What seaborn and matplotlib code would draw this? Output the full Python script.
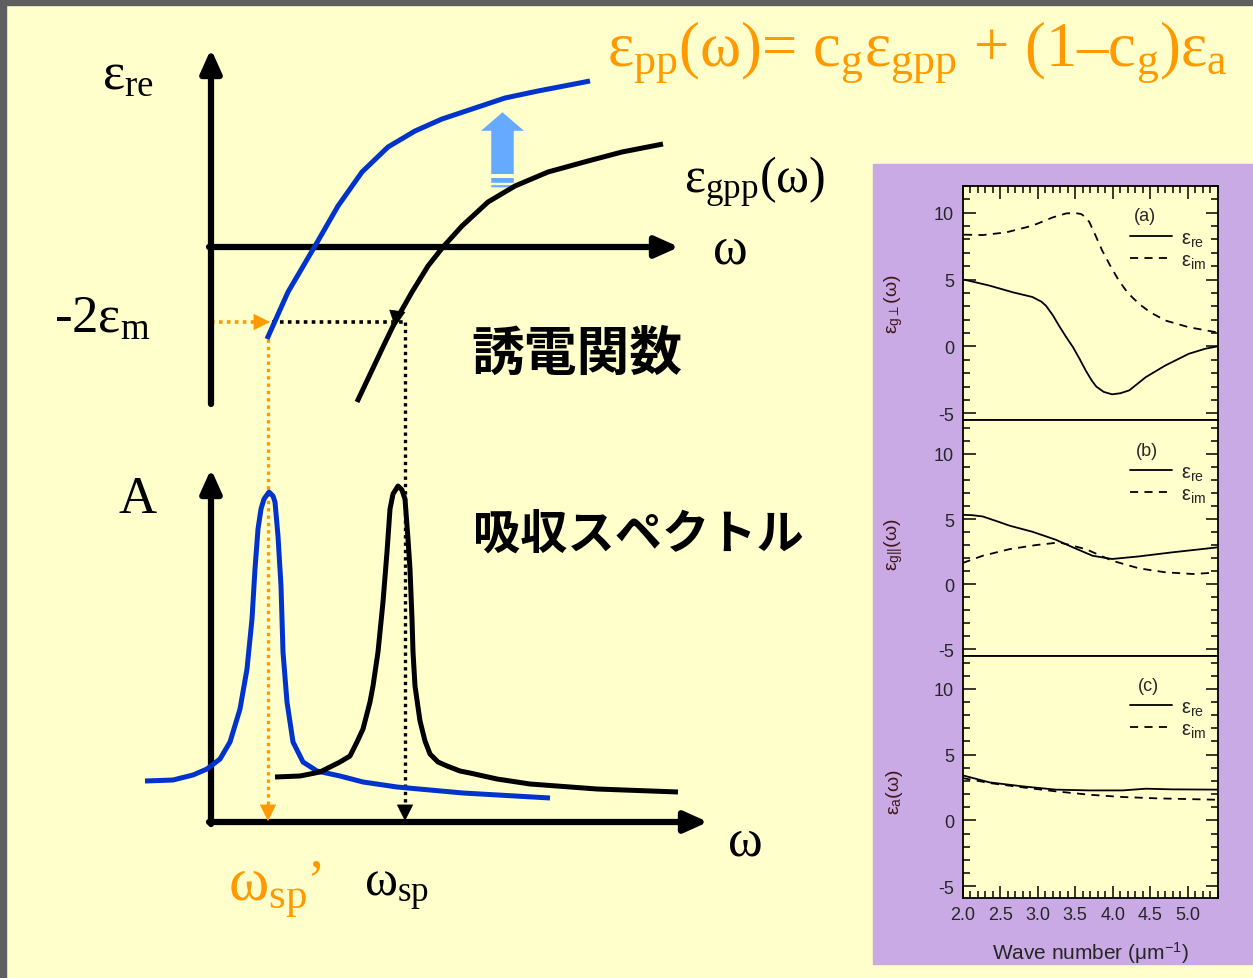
import numpy as np
import pandas as pd
import matplotlib
matplotlib.use("Agg")
import matplotlib.pyplot as plt
import seaborn as sns
from matplotlib.patches import Rectangle, FancyArrow
from matplotlib.ticker import MultipleLocator

sns.set_theme(style="ticks")
plt.rcParams["font.family"] = ["Liberation Serif", "DejaVu Sans"]
plt.rcParams["mathtext.fontset"] = "custom"
plt.rcParams["mathtext.rm"] = "Liberation Serif"
plt.rcParams["mathtext.it"] = "Liberation Serif"
plt.rcParams["mathtext.sf"] = "Liberation Sans"
plt.rcParams["mathtext.default"] = "rm"
plt.rcParams["axes.unicode_minus"] = False

BG = "#FFFFCC"
BLUE = "#0033CC"
ORANGE = "#FF9900"
PURPLE = "#C9AAE5"

# ---------------- schematic data (pixel frame) ----------------
eps_pp_w = [267, 288, 315, 338, 362, 388, 415, 442, 472, 505, 538, 590]
eps_pp_v = [340, 293, 247, 207, 173, 148, 132, 120, 110, 99, 92, 82]

eps_gpp_w = [357, 382, 395, 412, 428, 443, 462, 488, 515, 548, 588, 622, 663]
eps_gpp_v = [403, 350, 323, 293, 267, 248, 227, 203, 187, 173, 162, 153, 145]

abs_pp_w = [145, 173, 193, 207, 220, 230, 240, 247, 252, 255, 258, 261, 264, 269,
            273, 275, 278, 281, 283, 287, 293, 303, 317, 340, 363, 397, 463, 550]
abs_pp_v = [782, 781, 776, 770, 760, 743, 710, 670, 620, 570, 530, 510, 500, 493,
            497, 503, 537, 587, 653, 703, 743, 763, 772, 777, 783, 788, 794, 799]

abs_g_w = [275, 300, 320, 340, 350, 357, 363, 370, 373, 378, 383, 387, 390, 393,
           398, 402, 405, 408, 410, 412, 413, 415, 420, 425, 430, 438, 447, 460,
           470, 497, 530, 597, 678]
abs_g_v = [778, 777, 773, 763, 757, 743, 730, 703, 687, 653, 603, 553, 510, 495,
           487, 491, 500, 540, 570, 620, 653, 687, 722, 742, 755, 763, 767, 772,
           774, 780, 785, 790, 793]

# ---------------- right panel data ----------------
a_re_x = [2.02, 2.36, 2.67, 2.93, 3.05, 3.11, 3.20, 3.29, 3.38, 3.47, 3.56, 3.64, 3.72,
          3.78, 3.88, 3.99, 4.10, 4.22, 4.44, 4.70, 5.01, 5.23, 5.39]
a_re_y = [5.00, 4.55, 4.05, 3.70, 3.35, 3.05, 2.35, 1.50, 0.70, -0.05, -0.95, -1.80,
          -2.55, -3.00, -3.40, -3.58, -3.50, -3.28, -2.29, -1.42, -0.55, -0.17, 0.00]
a_im_x = [2.02, 2.27, 2.58, 2.93, 3.20, 3.38, 3.50, 3.58, 3.64, 3.69, 3.77, 3.86, 3.97,
          4.08, 4.20, 4.35, 4.50, 4.70, 5.01, 5.37]
a_im_y = [8.36, 8.33, 8.53, 9.03, 9.65, 9.95, 9.98, 9.90, 9.65, 9.28, 8.30, 7.16, 6.00,
          4.93, 4.00, 3.18, 2.55, 1.94, 1.44, 1.07]

b_re_x = [2.00, 2.13, 2.27, 2.45, 2.63, 2.93, 3.24, 3.47, 3.73, 3.99, 4.35, 4.79, 5.39]
b_re_y = [5.33, 5.30, 5.20, 4.85, 4.49, 4.03, 3.42, 2.83, 2.19, 1.94, 2.14, 2.45, 2.83]
b_im_x = [2.00, 2.27, 2.63, 2.98, 3.29, 3.64, 3.99, 4.35, 4.70, 5.06, 5.30]
b_im_y = [1.63, 2.19, 2.70, 3.01, 3.21, 2.70, 1.81, 1.22, 0.92, 0.79, 0.87]

c_re_x = [2.00, 2.36, 2.80, 3.24, 3.69, 4.13, 4.44, 4.79, 5.39]
c_re_y = [3.43, 2.89, 2.59, 2.34, 2.28, 2.28, 2.41, 2.36, 2.34]
c_im_x = [2.00, 2.36, 2.80, 3.24, 3.69, 4.13, 4.57, 5.01, 5.39]
c_im_y = [3.22, 2.84, 2.51, 2.21, 1.95, 1.78, 1.68, 1.62, 1.57]

panel_tags = ["(a)", "(b)", "(c)"]
panel_ylabels = [r"$\mathsf{ε}_{\mathsf{g}\perp}\mathsf{(ω)}$",
                 r"$\mathsf{ε}_{\mathsf{g||}}\mathsf{(ω)}$",
                 r"$\mathsf{ε}_{\mathsf{a}}\mathsf{(ω)}$"]
y_ticks = [-5, 0, 5, 10]
x_ticks = [2.0, 2.5, 3.0, 3.5, 4.0, 4.5, 5.0]

# ---------------- figure ----------------
fig = plt.figure(figsize=(12.53, 9.79), dpi=100, facecolor=BG)
ax = fig.add_axes([0, 0, 1, 1])
ax.set_facecolor(BG)

# borders and purple box
ax.add_patch(Rectangle((0, 0), 1253, 6, color="#5f5f5f", zorder=1))
ax.add_patch(Rectangle((0, 0), 6, 979, color="#5f5f5f", zorder=1))
ax.add_patch(Rectangle((873, 165), 380, 800, color=PURPLE, zorder=1))

def axis_arrow(x0, y0, x1, y1):
    ax.annotate("", xy=(x1, y1), xytext=(x0, y0),
                arrowprops=dict(arrowstyle="-|>,head_length=1.0,head_width=0.45",
                                lw=4.5, color="black", mutation_scale=14,
                                shrinkA=0, shrinkB=0), zorder=3)

def small_head(x0, y0, x1, y1, color):
    ax.annotate("", xy=(x1, y1), xytext=(x0, y0),
                arrowprops=dict(arrowstyle="-|>,head_length=1.0,head_width=0.5",
                                lw=0.5, color=color, mutation_scale=11,
                                shrinkA=0, shrinkB=0), zorder=4)

axis_arrow(211, 405, 211, 50)
axis_arrow(209, 248, 679, 248)
axis_arrow(211, 825, 211, 470)
axis_arrow(209, 823, 708, 823)

# dotted guide lines
dot = (0, (1, 1.2))
ax.plot([211, 258], [323, 323], ls=dot, lw=2.6, color=ORANGE, zorder=2)
small_head(254, 323, 270, 323, ORANGE)
ax.plot([272, 405], [323, 323], ls=dot, lw=2.6, color="black", zorder=2)
small_head(397, 314, 395, 328, "black")
ax.plot([268, 268], [340, 808], ls=dot, lw=2.4, color=ORANGE, zorder=2)
small_head(268, 806, 268, 822, ORANGE)
ax.plot([405, 405], [323, 808], ls=dot, lw=2.4, color="black", zorder=2)
small_head(405, 806, 405, 822, "black")

# curves
curve_kw = dict(ax=ax, sort=False, estimator=None, lw=3.6, solid_capstyle="butt",
                solid_joinstyle="round", zorder=5)
sns.lineplot(x=eps_pp_w, y=eps_pp_v, color=BLUE, **curve_kw)
sns.lineplot(x=eps_gpp_w, y=eps_gpp_v, color="black", **curve_kw)
sns.lineplot(x=abs_pp_w, y=abs_pp_v, color=BLUE, **curve_kw)
sns.lineplot(x=abs_g_w, y=abs_g_v, color="black", **curve_kw)
ax.set_xlim(0, 1253)
ax.set_ylim(979, 0)
ax.axis("off")

# light blue shift arrow
ax.add_patch(FancyArrow(502.5, 188.3, 0, -56.5, width=22.5, head_width=43, head_length=18.5,
                        length_includes_head=False, color="#66AAFF", lw=0, zorder=4))
ax.plot([489, 516], [177.0, 177.0], color=BG, lw=2.9, zorder=4.5, solid_capstyle="butt")
ax.plot([489, 516], [184.5, 184.5], color=BG, lw=1.7, zorder=4.5, solid_capstyle="butt")

# texts
ax.text(128, 76, r"ε$_{re}$", fontsize=38, ha="center", va="center", color="black")
ax.text(102, 320, r"-2ε$_{m}$", fontsize=38, ha="center", va="center", color="black")
ax.text(730, 250, "ω", fontsize=38, ha="center", va="center", color="black")
ax.text(755, 182, r"ε$_{gpp}$(ω)", fontsize=36, ha="center", va="center", color="black")
ax.text(917, 52, r"ε$_{pp}$(ω)= c$_{g}$ε$_{gpp}$ + (1–c$_{g}$)ε$_{a}$", fontsize=45,
        ha="center", va="center", color=ORANGE)
ax.text(577, 354, "誘電関数", fontsize=38, fontweight="bold", ha="center", va="center",
        family=["Noto Sans CJK JP", "DejaVu Sans"], color="black")
ax.text(638, 535, "吸収スペクトル", fontsize=34, fontweight="bold", ha="center", va="center",
        family=["Noto Sans CJK JP", "DejaVu Sans"], color="black")
ax.text(138, 500, "A", fontsize=38, ha="center", va="center", color="black")
ax.text(745, 843, "ω", fontsize=38, ha="center", va="center", color="black")
ax.text(268, 892, r"ω$_{sp}$", fontsize=44, ha="center", va="center", color=ORANGE)
ax.text(315, 884, "’", fontsize=40, ha="center", va="center", color=ORANGE)
ax.text(397, 890, r"ω$_{sp}$", fontsize=36, ha="center", va="center", color="black")

# ---------------- right panels ----------------
L = 962.5 / 1253
W = (1218 - 962.5) / 1253
panel_px = [(187, 421), (421, 657), (657, 899)]
ylims = [(-5.5, 12.0), (-5.5, 12.6), (-5.9, 12.5)]
series = [((a_re_x, a_re_y), (a_im_x, a_im_y)),
          ((b_re_x, b_re_y), (b_im_x, b_im_y)),
          ((c_re_x, c_re_y), (c_im_x, c_im_y))]
ylabel_pos = [0.5, 0.475, 0.44]
tag_pos = [(0.713, 0.873), (0.72, 0.870), (0.726, 0.877)]
leg_pos = [0.73, 0.73, 0.743]

for i, (top, bot) in enumerate(panel_px):
    pax = fig.add_axes([L, (979 - bot) / 979, W, (bot - top) / 979], zorder=10)
    pax.set_facecolor(BG)
    (rx, ry), (ix, iy) = series[i]
    sns.lineplot(x=rx, y=ry, ax=pax, color="black", lw=1.3, sort=False, estimator=None,
                 label=r"$\mathsf{ε}_{\mathsf{re}}$")
    sns.lineplot(x=ix, y=iy, ax=pax, color="black", lw=1.3, sort=False, estimator=None,
                 linestyle=(0, (4.5, 3.5)), label=r"$\mathsf{ε}_{\mathsf{im}}$")
    pax.set_xlim(2.0, 5.4)
    pax.set_ylim(*ylims[i])
    pax.set_yticks(y_ticks)
    pax.set_yticklabels([str(t) for t in y_ticks])
    pax.yaxis.set_minor_locator(MultipleLocator(1))
    pax.set_xticks(x_ticks)
    pax.xaxis.set_minor_locator(MultipleLocator(0.1))
    for s in pax.spines.values():
        s.set_linewidth(1.3)
        s.set_color("black")
    pax.tick_params(which="both", direction="in", left=True, right=True,
                    top=(i == 0), bottom=(i == 2), labelbottom=(i == 2),
                    color="black", width=1.1)
    pax.tick_params(which="major", length=9, labelsize=13, pad=6,
                    labelfontfamily="Liberation Sans")
    pax.tick_params(which="minor", length=5)
    pax.set_xlabel("")
    pax.set_ylabel(panel_ylabels[i], fontsize=14, color="#3f1616", rotation=90)
    pax.yaxis.set_label_coords(-0.225, ylabel_pos[i])
    pax.text(*tag_pos[i], panel_tags[i], transform=pax.transAxes, fontsize=13,
             family="Liberation Sans", ha="center", va="center")
    pax.legend(loc="center left", bbox_to_anchor=(0.655, leg_pos[i]), frameon=False,
               fontsize=14.5, handlelength=2.1, handletextpad=0.45, labelspacing=0.15,
               borderpad=0, borderaxespad=0)
    if i == 2:
        pax.set_xlabel(r"Wave number ($\mathsf{μm}^{\mathsf{-1}}$)", fontsize=15,
                       family="Liberation Sans", labelpad=12)

fig.savefig("out.png", dpi=100, facecolor=BG)
